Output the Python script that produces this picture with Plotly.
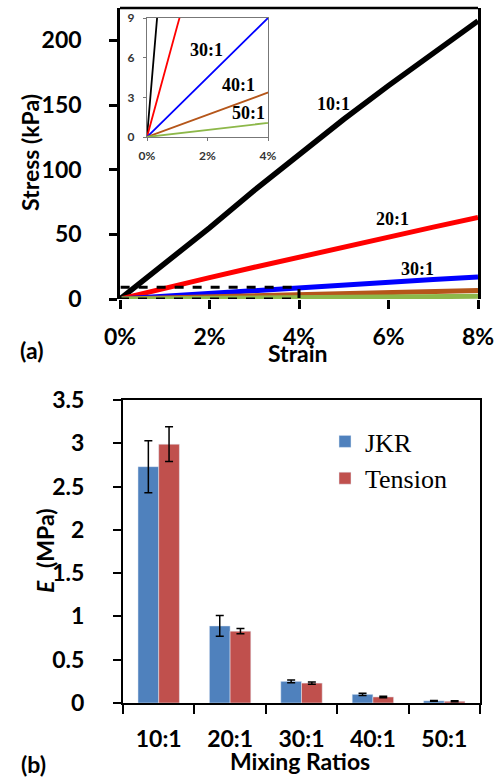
import plotly.graph_objects as go

# ---- panel (a): stress-strain data ----
strain = [0, 0.004, 0.01, 0.02, 0.03, 0.04, 0.05, 0.06, 0.07, 0.08]
stress_10 = [0, 10.8, 27, 55, 84, 112, 139, 165, 190, 215]
stress_20 = [0, 3.4, 8.4, 16.5, 24.5, 32.5, 40.3, 48, 55.6, 63]
stress_30 = [0, 0.9, 2.25, 4.5, 6.8, 9, 11, 13, 15, 17]
stress_40 = [0, 0.34, 0.85, 1.7, 2.55, 3.4, 4.2, 5.0, 5.8, 6.6]
stress_50 = [0, 0.11, 0.28, 0.55, 0.83, 1.1, 1.35, 1.6, 1.85, 2.1]
series_names = ["10:1", "20:1", "30:1", "40:1", "50:1"]
series_colors = ["#000000", "#FF0000", "#0000FF", "#B5561A", "#8DB84A"]

# ---- panel (b): modulus data ----
ratios = ["10:1", "20:1", "30:1", "40:1", "50:1"]
jkr = [2.73, 0.89, 0.25, 0.10, 0.025]
jkr_err = [0.30, 0.12, 0.015, 0.012, 0.005]
tension = [2.99, 0.83, 0.23, 0.07, 0.02]
tension_err = [0.20, 0.03, 0.012, 0.008, 0.005]

W, H = 501, 777
def px(x):
    return x / W
def py(y):
    return 1 - y / H

SANS = "Lato"
SERIF = "Liberation Serif"

fig = go.Figure()
all_stress = [stress_10, stress_20, stress_30, stress_40, stress_50]
for name, col, ys in zip(series_names, series_colors, all_stress):
    fig.add_trace(go.Scatter(x=strain, y=ys, mode="lines", name=name,
                             line=dict(color=col, width=5.5 if col == "#000000" else 5),
                             showlegend=False, xaxis="x", yaxis="y"))
for name, col, ys in zip(series_names, series_colors, all_stress):
    fig.add_trace(go.Scatter(x=strain, y=ys, mode="lines", name=name,
                             line=dict(color=col, width=1.8), showlegend=False,
                             xaxis="x2", yaxis="y2"))

fig.add_trace(go.Bar(x=ratios, y=jkr, name="JKR", marker_color="#4F81BD",
                     error_y=dict(type="data", array=jkr_err, color="black",
                                  thickness=1.5, width=4),
                     xaxis="x3", yaxis="y3"))
fig.add_trace(go.Bar(x=ratios, y=tension, name="Tension", marker_color="#C0504D",
                     error_y=dict(type="data", array=tension_err, color="black",
                                  thickness=1.5, width=4),
                     xaxis="x3", yaxis="y3"))

tickfont = dict(family=SANS, size=23, color="black", weight="bold")
insetfont = dict(family=SANS, size=12, color="#333333", weight="bold")

fig.update_layout(
    width=W, height=H, margin=dict(l=0, r=0, t=0, b=0, autoexpand=False),
    paper_bgcolor="white", plot_bgcolor="white",
    bargap=0.42, bargroupgap=0, barmode="group",
    xaxis=dict(domain=[px(120), px(478)], anchor="y", range=[0, 0.08],
               tickvals=[0, 0.02, 0.04, 0.06, 0.08], tickformat=".0%",
               showline=False, showgrid=False, zeroline=False, automargin=False,
               ticks="outside", ticklen=9, tickwidth=2.5, tickcolor="black",
               tickfont=tickfont, ticklabelstandoff=8),
    yaxis=dict(domain=[py(299), py(8)], anchor="x", range=[0, 225],
               tickvals=[0, 50, 100, 150, 200], automargin=False,
               showline=True, mirror=True, linewidth=2.5, linecolor="black",
               showgrid=False, zeroline=False,
               ticks="outside", ticklen=8, tickwidth=2.5, tickcolor="black",
               tickfont=tickfont, ticklabelstandoff=23),
    xaxis2=dict(domain=[px(147), px(268)], anchor="y2", range=[0, 0.04],
                tickvals=[0, 0.02, 0.04], tickformat=".0%", automargin=False,
                showline=True, mirror=True, linewidth=1.2, linecolor="#777777",
                showgrid=False, zeroline=False,
                ticks="outside", ticklen=3, tickcolor="#777777",
                tickfont=insetfont, ticklabelstandoff=4),
    yaxis2=dict(domain=[py(137), py(18)], anchor="x2", range=[0, 9],
                tickvals=[0, 3, 6, 9], automargin=False,
                showline=True, mirror=True, linewidth=1.2, linecolor="#777777",
                showgrid=False, zeroline=False,
                ticks="outside", ticklen=3, tickcolor="#777777",
                tickfont=insetfont, ticklabelstandoff=6),
    xaxis3=dict(domain=[px(123), px(480)], anchor="y3", automargin=False,
                showline=True, mirror=True, linewidth=2, linecolor="black",
                showgrid=False, zeroline=False,
                ticks="outside", tickson="boundaries", ticklen=9, tickwidth=2,
                tickcolor="black", tickfont=tickfont, ticklabelstandoff=14),
    yaxis3=dict(domain=[py(703), py(400)], anchor="x3", range=[0, 3.5],
                dtick=0.5, showline=True, mirror=True, linewidth=2, automargin=False,
                linecolor="black", showgrid=False, zeroline=False,
                ticks="outside", ticklen=8, tickwidth=2, tickcolor="black",
                tickfont=tickfont, ticklabelstandoff=24),
    legend=dict(x=px(325), y=py(418), xanchor="left", yanchor="top",
                font=dict(family=SERIF, size=26, color="black"),
                bgcolor="rgba(0,0,0,0)", tracegroupgap=0),
)

# frame top line of panel (a) and dashed zoom box
fig.add_shape(type="line", xref="x domain", yref="y domain", x0=0, x1=1, y0=1, y1=1,
              line=dict(color="black", width=2.5))
fig.add_shape(type="rect", xref="x", yref="y", x0=0, x1=0.04, y0=0, y1=9,
              line=dict(color="black", width=3, dash="dash"), layer="above")

labfont = dict(family=SERIF, size=18, color="black", weight="bold")
line_labels = [("10:1", 0.0478, 151, "x", "y"), ("20:1", 0.0608, 62, "x", "y"),
               ("30:1", 0.0664, 23, "x", "y"), ("30:1", 0.0198, 6.6, "x2", "y2"),
               ("40:1", 0.0302, 3.9, "x2", "y2"), ("50:1", 0.0337, 1.8, "x2", "y2")]
for t, xv, yv, xr, yr in line_labels:
    fig.add_annotation(text=t, x=xv, y=yv, xref=xr, yref=yr, showarrow=False,
                       xanchor="center", yanchor="middle", font=labfont)

titlefont = dict(family=SANS, size=23, color="black", weight="bold")
titles = [("Stress (kPa)", 30, 153, -90), ("Strain", 298, 353, 0), ("(a)", 32, 350, 0),
          ("(MPa)", 45, 538, -90), ("Mixing Ratios", 300, 761, 0),
          ("(b)", 33, 764, 0)]
for t, xx, yy, ang in titles:
    fig.add_annotation(text=t, x=px(xx), y=py(yy), xref="paper", yref="paper",
                       xanchor="center", yanchor="middle", textangle=ang,
                       showarrow=False, font=titlefont)
# italic symbol E of the y-axis title of panel (b)
fig.add_annotation(text="E", x=px(45), y=py(587), xref="paper", yref="paper",
                   xanchor="center", yanchor="middle", textangle=-90, showarrow=False,
                   font=dict(family=SANS, size=23, color="black", weight="bold",
                             style="italic"))

fig.write_html("out.html", config={"displayModeBar": False},
               post_script="document.body.style.margin='0';document.body.style.overflow='hidden';")
